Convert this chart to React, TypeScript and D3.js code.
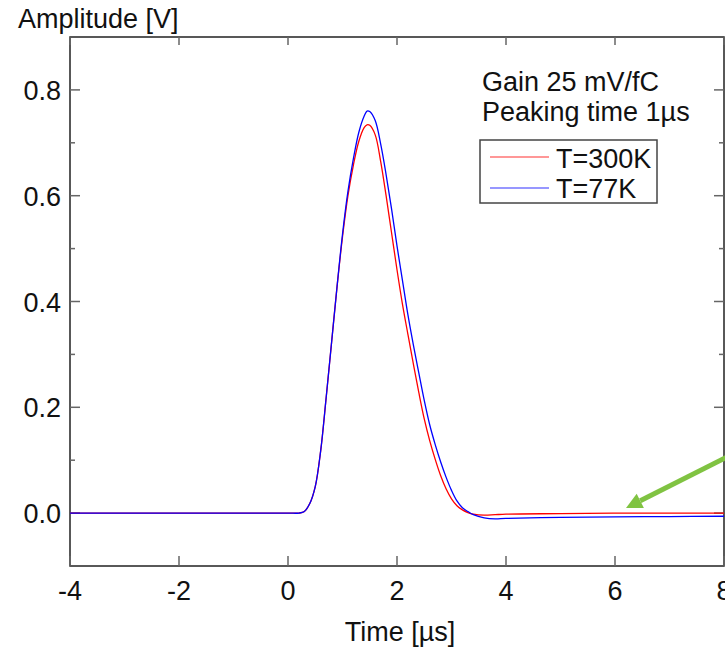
import React from "react";
import * as d3 from "d3";

const times = [-4, -2, 0, 0.2, 0.3, 0.4, 0.5, 0.6, 0.7, 0.8, 0.9, 1.0, 1.1, 1.2, 1.3, 1.4, 1.45, 1.5, 1.6, 1.7, 1.8, 1.9, 2.0, 2.1, 2.2, 2.3, 2.4, 2.5, 2.6, 2.7, 2.8, 2.9, 3.0, 3.1, 3.2, 3.3, 3.4, 3.6, 3.8, 4.0, 5, 6, 7, 8];
const red300K = [0, 0, 0, 0, 0.003, 0.018, 0.05, 0.118, 0.218, 0.323, 0.428, 0.522, 0.6, 0.658, 0.703, 0.729, 0.734, 0.733, 0.715, 0.665, 0.6, 0.53, 0.46, 0.395, 0.338, 0.282, 0.228, 0.178, 0.137, 0.102, 0.071, 0.046, 0.027, 0.014, 0.006, 0.001, -0.002, -0.004, -0.003, -0.002, -0.001, 0, 0, 0];
const blue77K = [0, 0, 0, 0, 0.003, 0.018, 0.05, 0.118, 0.218, 0.323, 0.428, 0.527, 0.608, 0.67, 0.72, 0.751, 0.76, 0.759, 0.742, 0.698, 0.64, 0.575, 0.505, 0.44, 0.375, 0.318, 0.265, 0.213, 0.167, 0.13, 0.097, 0.068, 0.043, 0.023, 0.01, 0.003, -0.003, -0.009, -0.011, -0.01, -0.008, -0.007, -0.0065, -0.006];
const xTicks = [-4, -2, 0, 2, 4, 6, 8];
const yTicksMajor = [0.0, 0.2, 0.4, 0.6, 0.8];
const yTicksMinor = [0.1, 0.3, 0.5, 0.7];
const seriesNames = ["T=300K", "T=77K"];
const annotation = ["Gain 25 mV/fC", "Peaking time 1\u00b5s"];

const FONT = "'Liberation Sans', Arial, sans-serif";

export default function App() {
  const L = 70, R = 724, T = 37, B = 566;
  const x = d3.scaleLinear().domain([-4, 8]).range([L, R]);
  const y = d3.scaleLinear().domain([-0.1, 0.9]).range([B, T]);
  const line = (vals: number[]) =>
    d3.line<number>().x((_, i) => x(times[i])).y((v) => y(v)).curve(d3.curveCatmullRom.alpha(0.5))(vals) || "";

  const axisColor = "#222";
  const tickColor = "#666";
  const fs = 27;

  // arrow
  const ax1 = 727, ay1 = 457, ax2 = 626, ay2 = 508;
  const ang = Math.atan2(ay2 - ay1, ax2 - ax1);
  const hl = 16, hw = 8;
  const bx = ax2 - hl * Math.cos(ang), by = ay2 - hl * Math.sin(ang);
  const px = -Math.sin(ang) * hw, py = Math.cos(ang) * hw;

  return (
    <svg width={725} height={650} style={{ position: "absolute", left: 0, top: 0, background: "#fff" }} fontFamily={FONT}>
      <defs>
        <clipPath id="plot">
          <rect x={L} y={T} width={R - L} height={B - T} />
        </clipPath>
      </defs>
      <rect x={0} y={0} width={725} height={650} fill="#fff" />
      <rect x={L} y={T} width={R - L} height={B - T} fill="none" stroke={axisColor} strokeWidth={1.5} />
      {xTicks.map((t) => (
        <g key={"xt" + t}>
          <line x1={x(t)} x2={x(t)} y1={B} y2={B - 10} stroke={tickColor} strokeWidth={1.5} />
          <line x1={x(t)} x2={x(t)} y1={T} y2={T + 8} stroke={tickColor} strokeWidth={1.5} />
          <text x={x(t)} y={600} fontSize={fs} textAnchor="middle" fill="#111">{t}</text>
        </g>
      ))}
      {yTicksMajor.map((v) => (
        <g key={"yt" + v}>
          <line x1={L} x2={L + 10} y1={y(v)} y2={y(v)} stroke={tickColor} strokeWidth={1.5} />
          <line x1={R} x2={R - 10} y1={y(v)} y2={y(v)} stroke={tickColor} strokeWidth={1.5} />
          <text x={61} y={y(v) + 10} fontSize={fs} textAnchor="end" fill="#111">{v.toFixed(1)}</text>
        </g>
      ))}
      {yTicksMinor.map((v) => (
        <g key={"ym" + v}>
          <line x1={L} x2={L + 5} y1={y(v)} y2={y(v)} stroke={tickColor} strokeWidth={1.5} />
          <line x1={R} x2={R - 5} y1={y(v)} y2={y(v)} stroke={tickColor} strokeWidth={1.5} />
        </g>
      ))}
      <text x={18} y={28} fontSize={fs} fill="#111">Amplitude [V]</text>
      <text x={400} y={641} fontSize={fs} textAnchor="middle" fill="#111">Time [µs]</text>
      <g clipPath="url(#plot)" fill="none">
        <path d={line(red300K)} stroke="#ff0000" strokeWidth={1.3} />
        <path d={line(blue77K)} stroke="#0000ff" strokeWidth={1.3} />
      </g>
      <text x={482} y={91} fontSize={fs} fill="#111">{annotation[0]}</text>
      <text x={482} y={121} fontSize={fs} fill="#111">{annotation[1]}</text>
      <rect x={480} y={140} width={177} height={63} fill="#fff" stroke="#444" strokeWidth={1.5} />
      <line x1={490} x2={549} y1={157} y2={157} stroke="#ff3030" strokeWidth={1.2} />
      <line x1={490} x2={549} y1={188} y2={188} stroke="#3030ff" strokeWidth={1.2} />
      <text x={556} y={168} fontSize={fs} fill="#111">{seriesNames[0]}</text>
      <text x={556} y={198} fontSize={fs} fill="#111">{seriesNames[1]}</text>
      <line x1={ax1} y1={ay1} x2={bx} y2={by} stroke="#80c342" strokeWidth={5} />
      <polygon points={`${ax2},${ay2} ${bx + px},${by + py} ${bx - px},${by - py}`} fill="#80c342" />
    </svg>
  );
}
